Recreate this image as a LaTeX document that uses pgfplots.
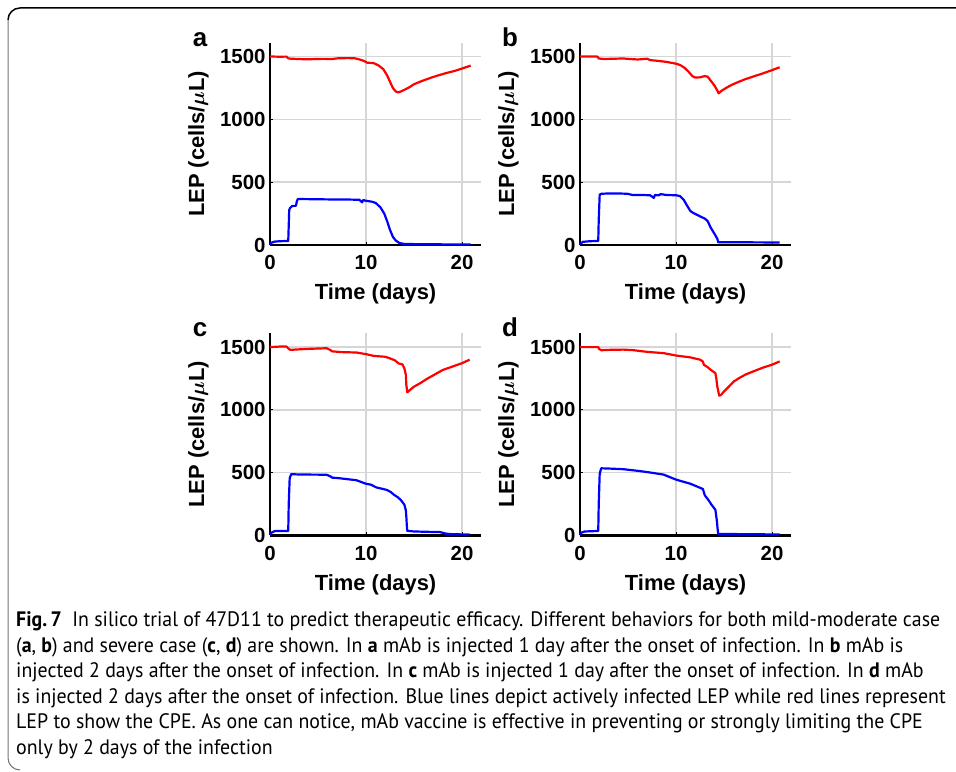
\documentclass[border=0pt]{standalone}
\usepackage{pgfplots}
\pgfplotsset{compat=1.18}
\usepackage{amsmath,amssymb,bm}
\usepackage{fontspec}
\setmainfont{Liberation Sans}
\newfontfamily\capfont{PT Sans}[FakeStretch=0.95]
\definecolor{gridgray}{RGB}{214,214,214}
\pgfplotsset{
  panel/.style={
    scale only axis, width=211.2bp, height=202.2bp,
    xmin=0, xmax=22, ymin=0, ymax=1610,
    axis lines=left,
    axis line style={-, line width=2.2bp, black},
    xtick={0,10,20}, ytick={0,500,1000,1500},
    grid=major,
    major grid style={line width=1.4bp, gridgray},
    tick style={black, line width=1bp},
    major tick length=3bp, tick align=inside,
    /pgf/number format/assume math mode=true,
    /pgf/number format/1000 sep={},
    ticklabel style={font=\bfseries\fontsize{20.5}{20.5}\selectfont},
    xticklabel style={yshift=-7bp},
    yticklabel style={xshift=-1bp},
    xlabel={Time (days)},
    ylabel={LEP (cells/$\boldsymbol{\mu}$L)},
    label style={font=\bfseries\fontsize{22}{22}\selectfont},
    xlabel style={at={(axis description cs:0.5,0)}, anchor=base, yshift=-55bp},
    ylabel style={at={(axis description cs:0,0.5)}, anchor=base, yshift=66bp},
    clip=false,
  },
  redl/.style={color={rgb,255:red,255;green,0;blue,0}, line width=2.2bp, line join=round},
  bluel/.style={color={rgb,255:red,0;green,0;blue,255}, line width=2.2bp, line join=round},
}
\begin{document}
\begin{tikzpicture}[x=1bp,y=1bp]
\path[use as bounding box] (0,0) rectangle (956,772);
% frame
\draw[line width=1.5bp, black] (956bp,764bp) -- (20bp,764bp) arc[start angle=90, end angle=180, radius=12bp];
\draw[line width=1bp, black!55] (8bp,752bp) -- (8bp,14bp) arc[start angle=180, end angle=270, radius=12bp];

% panel a
\begin{axis}[panel, at={(270bp,527bp)}, anchor=south west]
\addplot[redl] coordinates {(0,1500) (0.5,1500) (1.0,1499) (1.7,1500) (1.9,1486) (2.2,1483) (3,1481) (3.8,1478) (4.5,1480) (5.5,1482) (6.5,1481) (7,1486) (8,1488) (8.8,1487) (9.2,1480) (9.8,1465) (10.1,1452) (10.8,1448) (11.3,1430) (11.8,1400) (12.2,1350) (12.5,1300) (12.8,1250) (13.1,1222) (13.4,1215) (13.8,1228) (14.5,1255) (15,1280) (15.8,1305) (16.7,1330) (17.5,1350) (18.5,1372) (19.2,1385) (20,1405) (20.9,1428)};
\addplot[bluel] coordinates {(0,8) (0.2,20) (0.5,27) (1,30) (1.9,32) (1.95,150) (2.0,280) (2.1,295) (2.3,310) (2.7,312) (2.8,350) (2.9,366) (4,365) (6,363) (8,362) (9.3,360) (9.6,340) (9.7,358) (10,352) (10.6,345) (11,335) (11.5,300) (11.9,250) (12.2,190) (12.5,120) (12.8,65) (13.1,35) (13.5,15) (14,8) (16,6) (18,5) (20.9,4)};
\end{axis}

% panel b
\begin{axis}[panel, at={(580bp,527bp)}, anchor=south west]
\addplot[redl] coordinates {(0,1500) (1.8,1500) (1.95,1485) (2.5,1481) (3.5,1483) (4.5,1485) (5.2,1481) (6,1477) (7,1483) (7.3,1472) (8,1467) (9,1458) (10.1,1442) (10.5,1430) (10.9,1410) (11.3,1380) (11.7,1345) (12,1333) (12.5,1335) (13.0,1345) (13.3,1340) (13.6,1310) (14,1270) (14.3,1230) (14.45,1208) (14.7,1225) (15.2,1250) (15.8,1275) (16.5,1298) (17.2,1320) (18,1340) (19,1365) (20,1392) (20.8,1415)};
\addplot[bluel] coordinates {(0,8) (0.3,25) (1,30) (1.9,32) (1.95,200) (2.05,400) (2.2,408) (3,410) (4,410) (4.9,408) (5.5,398) (6.5,398) (7.3,396) (7.6,380) (7.7,375) (7.8,398) (8.2,395) (8.4,405) (9,398) (10,396) (10.4,390) (10.8,360) (11.1,320) (11.5,270) (11.8,255) (12.5,228) (13.0,210) (13.3,190) (13.6,140) (14.0,90) (14.3,50) (14.4,22) (15,21) (18,21) (20.8,20)};
\end{axis}

% panel c
\begin{axis}[panel, at={(270bp,236.5bp)}, anchor=south west]
\addplot[redl] coordinates {(0,1500) (1.2,1505) (1.7,1505) (1.9,1490) (2.1,1478) (3,1482) (4,1486) (5.9,1491) (6.2,1480) (6.5,1466) (7.5,1460) (9,1457) (10,1444) (10.8,1430) (12,1423) (12.5,1410) (13,1395) (13.4,1370) (13.8,1362) (14.0,1330) (14.15,1280) (14.2,1200) (14.3,1140) (14.6,1160) (15,1185) (15.7,1215) (16.3,1245) (17,1275) (18,1318) (19,1345) (20,1372) (20.8,1400)};
\addplot[bluel] coordinates {(0,8) (0.2,25) (0.5,35) (1.9,36) (1.95,250) (2.05,455) (2.2,488) (3,486) (4,485) (5.9,484) (6.3,470) (6.5,460) (7,458) (8,449) (9,440) (10,412) (10.5,405) (11.1,382) (11.8,370) (12.2,362) (12.6,345) (12.9,325) (13.3,305) (13.6,285) (14,245) (14.15,200) (14.2,150) (14.25,80) (14.3,37) (15,32) (16,30) (17.7,27) (18.4,14) (19,10) (20.8,8)};
\end{axis}

% panel d
\begin{axis}[panel, at={(580bp,236.5bp)}, anchor=south west]
\addplot[redl] coordinates {(0,1500) (1.9,1500) (2.0,1485) (2.2,1475) (3,1478) (4.5,1480) (5.5,1476) (7,1462) (8.7,1452) (10,1433) (11.5,1418) (12.5,1400) (12.8,1385) (12.9,1360) (13.3,1340) (13.6,1320) (14.1,1293) (14.2,1250) (14.3,1187) (14.5,1113) (14.7,1120) (15,1147) (15.5,1185) (16,1225) (16.5,1250) (17.2,1280) (18,1305) (19,1335) (20,1360) (20.8,1386)};
\addplot[bluel] coordinates {(0,8) (0.2,25) (0.5,32) (1.9,36) (1.95,250) (2.05,490) (2.2,535) (3,533) (4.5,528) (6,515) (7,505) (8.7,485) (10,445) (11.5,412) (12.5,380) (12.8,370) (13.0,320) (13.4,280) (13.7,245) (14.1,205) (14.25,120) (14.35,40) (14.4,13) (15,12) (18,10) (20.8,8)};
\end{axis}

% panel letters
\begin{scope}[every node/.style={font=\bfseries\fontsize{26}{26}\selectfont, anchor=base, inner sep=0pt}]
\node at (200bp,725bp) {a};
\node at (510bp,725bp) {b};
\node at (200bp,435bp) {c};
\node at (510bp,435bp) {d};
\end{scope}

% caption
\begin{scope}[every node/.style={font=\capfont\fontsize{21}{21}\selectfont, anchor=base west, inner sep=0pt}]
\node at (16bp,145bp) {\textbf{Fig.\,7}\enspace In silico trial of 47D11 to predict therapeutic efficacy. Different behaviors for both mild-moderate case};
\node at (16bp,119.5bp) {(\textbf{a}, \textbf{b}) and severe case (\textbf{c}, \textbf{d}) are shown. In \textbf{a} mAb is injected 1 day after the onset of infection. In \textbf{b} mAb is};
\node at (16bp,94bp) {injected 2 days after the onset of infection. In \textbf{c} mAb is injected 1 day after the onset of infection. In \textbf{d} mAb};
\node at (16bp,68.5bp) {is injected 2 days after the onset of infection. Blue lines depict actively infected LEP while red lines represent};
\node at (16bp,43bp) {LEP to show the CPE. As one can notice, mAb vaccine is effective in preventing or strongly limiting the CPE};
\node at (16bp,17bp) {only by 2 days of the infection};
\end{scope}
\end{tikzpicture}
\end{document}
